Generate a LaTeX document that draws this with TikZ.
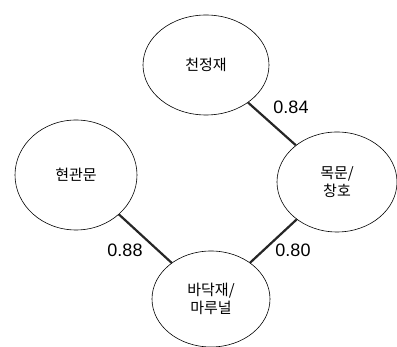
\documentclass[tikz,border=0pt]{standalone}
\usepackage{fontspec}
\setmainfont{Liberation Sans}
\newfontfamily\kor{Noto Sans CJK KR}
\usetikzlibrary{shapes.geometric}

\tikzset{
  cluster/.style={ellipse, draw, line width=0.6pt, font=\kor\fontsize{15}{18}\selectfont, align=center, inner sep=0pt},
  link/.style={line width=2.2pt, black!85},
  coef/.style={font=\fontsize{18}{21}\selectfont}
}

\begin{document}
\begin{tikzpicture}[x=1pt,y=-1pt]
\useasboundingbox (0,0) rectangle (397,347);
\node[cluster, minimum width=126, minimum height=100] (ceil) at (206,65) {천정재};
\node[cluster, minimum width=122, minimum height=110] (door) at (76,175) {현관문};
\node[cluster, minimum width=120, minimum height=100] (wood) at (337,182) {목문/\\창호};
\node[cluster, minimum width=118, minimum height=96] (floor) at (211,299) {바닥재/\\마루널};
\draw[link] (ceil) -- (wood);
\draw[link] (door) -- (floor);
\draw[link] (wood) -- (floor);
\node[coef] (c1) at (291,107) {0.84};
\node[coef] (c2) at (125,250) {0.88};
\node[coef] (c3) at (293,250) {0.80};
\end{tikzpicture}
\end{document}
